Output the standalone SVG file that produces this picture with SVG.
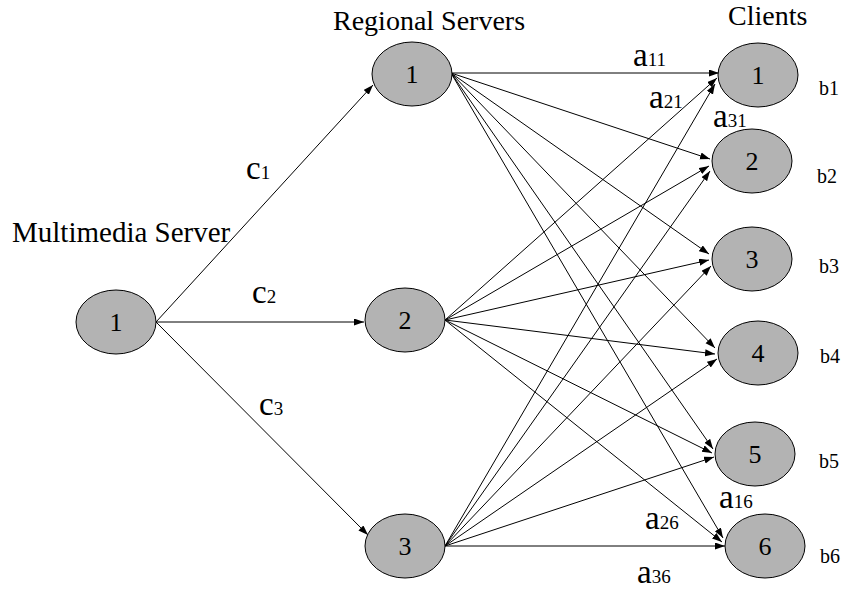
<svg xmlns="http://www.w3.org/2000/svg" width="849" height="592" viewBox="0 0 849 592">
  <style>
    .node ellipse { fill: #b3b3b3; stroke: #000; stroke-width: 1; }
    .node text { font-family: "Liberation Serif", "Times New Roman", serif; font-size: 26px; fill: #000; text-anchor: middle; }
    .title { font-family: "Liberation Serif", "Times New Roman", serif; font-size: 28px; fill: #000; }
    .lbl { font-family: "Liberation Serif", "Times New Roman", serif; font-size: 33px; fill: #000; }
    .lbl tspan { font-size: 19px; }
    .b { font-family: "Liberation Serif", "Times New Roman", serif; font-size: 20px; fill: #000; }
    #connectors line { stroke: #000; stroke-width: 1; fill: none; marker-end: url(#arrow); }
  </style>
  <defs>
    <marker id="arrow" markerUnits="userSpaceOnUse" markerWidth="11" markerHeight="8" refX="10" refY="3.5" orient="auto">
      <path d="M0,0 L10,3.5 L0,7 z" fill="#000"/>
    </marker>
  </defs>

  <!-- column headings -->
  <text class="title" x="12" y="242" style="font-size:29px">Multimedia Server</text>
  <text class="title" x="333" y="30">Regional Servers</text>
  <text class="title" x="728" y="25">Clients</text>

  <!-- connectors -->
  <g id="connectors">
    <!-- multimedia server to regional servers -->
    <line x1="156" y1="322" x2="373" y2="85"/>
    <line x1="156" y1="322" x2="364" y2="322"/>
    <line x1="156" y1="322" x2="368" y2="535"/>
    <!-- regional server 1 to clients -->
    <line x1="451" y1="73" x2="719" y2="73"/>
    <line x1="451" y1="73" x2="710" y2="159"/>
    <line x1="451" y1="73" x2="709" y2="254"/>
    <line x1="451" y1="73" x2="715" y2="348"/>
    <line x1="451" y1="73" x2="713" y2="449"/>
    <line x1="451" y1="73" x2="723" y2="538"/>
    <!-- regional server 2 to clients -->
    <line x1="445" y1="320" x2="717" y2="78"/>
    <line x1="445" y1="320" x2="709" y2="166"/>
    <line x1="445" y1="320" x2="709" y2="260"/>
    <line x1="445" y1="320" x2="715" y2="354"/>
    <line x1="445" y1="320" x2="712" y2="453"/>
    <line x1="445" y1="320" x2="722" y2="542"/>
    <!-- regional server 3 to clients -->
    <line x1="445" y1="546" x2="715" y2="84"/>
    <line x1="445" y1="546" x2="710" y2="171"/>
    <line x1="445" y1="546" x2="711" y2="266"/>
    <line x1="445" y1="546" x2="717" y2="359"/>
    <line x1="445" y1="546" x2="714" y2="457"/>
    <line x1="445" y1="546" x2="725" y2="546"/>
  </g>

  <!-- edge labels -->
  <text class="lbl" x="246" y="179">c<tspan>1</tspan></text>
  <text class="lbl" x="252" y="303">c<tspan>2</tspan></text>
  <text class="lbl" x="259" y="415">c<tspan>3</tspan></text>
  <text class="lbl" x="633" y="66">a<tspan>11</tspan></text>
  <text class="lbl" x="649" y="108">a<tspan>21</tspan></text>
  <text class="lbl" x="713" y="127">a<tspan>31</tspan></text>
  <text class="lbl" x="719" y="508">a<tspan>16</tspan></text>
  <text class="lbl" x="645" y="529">a<tspan>26</tspan></text>
  <text class="lbl" x="637" y="583">a<tspan>36</tspan></text>

  <!-- client demands -->
  <text class="b" x="819" y="95">b1</text>
  <text class="b" x="817" y="183">b2</text>
  <text class="b" x="819" y="273">b3</text>
  <text class="b" x="820" y="363">b4</text>
  <text class="b" x="819" y="468">b5</text>
  <text class="b" x="820" y="563">b6</text>

  <!-- multimedia server -->
  <g id="mm1" class="node"><ellipse cx="116" cy="322" rx="40" ry="32"/><text x="116" y="331">1</text></g>

  <!-- regional servers -->
  <g id="rs1" class="node"><ellipse cx="412" cy="74" rx="40" ry="32"/><text x="412" y="83">1</text></g>
  <g id="rs2" class="node"><ellipse cx="405" cy="320" rx="40" ry="32"/><text x="405" y="329">2</text></g>
  <g id="rs3" class="node"><ellipse cx="405" cy="546" rx="40" ry="32"/><text x="405" y="555">3</text></g>

  <!-- clients -->
  <g id="cl1" class="node"><ellipse cx="758" cy="75" rx="40" ry="32"/><text x="758" y="84">1</text></g>
  <g id="cl2" class="node"><ellipse cx="752" cy="161" rx="40" ry="32"/><text x="752" y="170">2</text></g>
  <g id="cl3" class="node"><ellipse cx="752" cy="259" rx="40" ry="32"/><text x="752" y="268">3</text></g>
  <g id="cl4" class="node"><ellipse cx="758" cy="353" rx="40" ry="32"/><text x="758" y="362">4</text></g>
  <g id="cl5" class="node"><ellipse cx="755" cy="454" rx="40" ry="32"/><text x="755" y="463">5</text></g>
  <g id="cl6" class="node"><ellipse cx="765" cy="546" rx="40" ry="32"/><text x="765" y="555">6</text></g>
</svg>
